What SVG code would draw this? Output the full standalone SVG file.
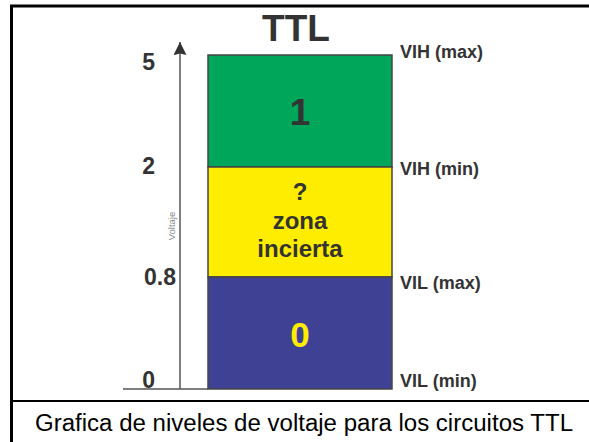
<svg xmlns="http://www.w3.org/2000/svg" width="589" height="442" viewBox="0 0 589 442">
<style>
.lbl{font-family:"Liberation Sans",Arial,sans-serif;font-weight:bold;fill:#333;}
.band{stroke:#444;stroke-width:1.5;}
</style>
<defs>
<marker id="ah" markerWidth="14" markerHeight="14" refX="13" refY="6.5" orient="auto" markerUnits="userSpaceOnUse" viewBox="0 0 14 14">
<path d="M0,0 L13,6.5 L0,13 L1.5,6.5 Z" fill="#333"/>
</marker>
</defs>
<rect width="589" height="442" fill="#fff"/>
<g id="frame" stroke="#000" fill="none">
<line x1="10" y1="6" x2="589" y2="6" stroke-width="3"/>
<line x1="11.5" y1="5" x2="11.5" y2="442" stroke-width="3"/>
<line x1="11" y1="401" x2="589" y2="401" stroke-width="2"/>
</g>
<g id="connectors" stroke="#555" fill="none">
<line x1="180" y1="389" x2="180" y2="42" stroke-width="1.5" marker-end="url(#ah)"/>
<line x1="123" y1="389" x2="208" y2="389" stroke-width="1.5"/>
</g>
<g id="title"><text class="lbl" x="296" y="41" font-size="37" text-anchor="middle">TTL</text></g>
<g id="band-high">
<rect class="band" x="208" y="55" width="184" height="112" fill="#00A65A"/>
<text class="lbl" x="300" y="125" font-size="37" text-anchor="middle">1</text>
</g>
<g id="band-uncertain">
<rect class="band" x="208" y="167" width="184" height="110" fill="#FFED00"/>
<text class="lbl" x="300" y="200" font-size="24" text-anchor="middle">?</text>
<text class="lbl" x="300" y="229" font-size="24" text-anchor="middle">zona</text>
<text class="lbl" x="300" y="257" font-size="24" text-anchor="middle">incierta</text>
</g>
<g id="band-low">
<rect class="band" x="208" y="277" width="184" height="112" fill="#3F4195"/>
<text class="lbl" x="300" y="347" font-size="35" text-anchor="middle" style="fill:#FFED00">0</text>
</g>
<g id="ticks">
<text class="lbl" x="155" y="70" font-size="23" text-anchor="end">5</text>
<text class="lbl" x="155" y="174" font-size="23" text-anchor="end">2</text>
<text class="lbl" x="176" y="285" font-size="23" text-anchor="end">0.8</text>
<text class="lbl" x="155" y="388" font-size="23" text-anchor="end">0</text>
</g>
<g id="side-labels">
<text class="lbl" x="400" y="58" font-size="18">VIH (max)</text>
<text class="lbl" x="400" y="175" font-size="18">VIH (min)</text>
<text class="lbl" x="400" y="289" font-size="18">VIL (max)</text>
<text class="lbl" x="400" y="387" font-size="18">VIL (min)</text>
</g>
<g id="axis-label"><text x="0" y="0" transform="translate(175,226) rotate(-90)" font-family="Liberation Sans,Arial,sans-serif" font-size="9.5" fill="#888" text-anchor="middle">Voltaje</text></g>
<g id="caption"><text x="35" y="431" font-family="Liberation Sans,Arial,sans-serif" font-size="23" fill="#000" textLength="538" lengthAdjust="spacingAndGlyphs">Grafica de niveles de voltaje para los circuitos TTL</text></g>
</svg>
